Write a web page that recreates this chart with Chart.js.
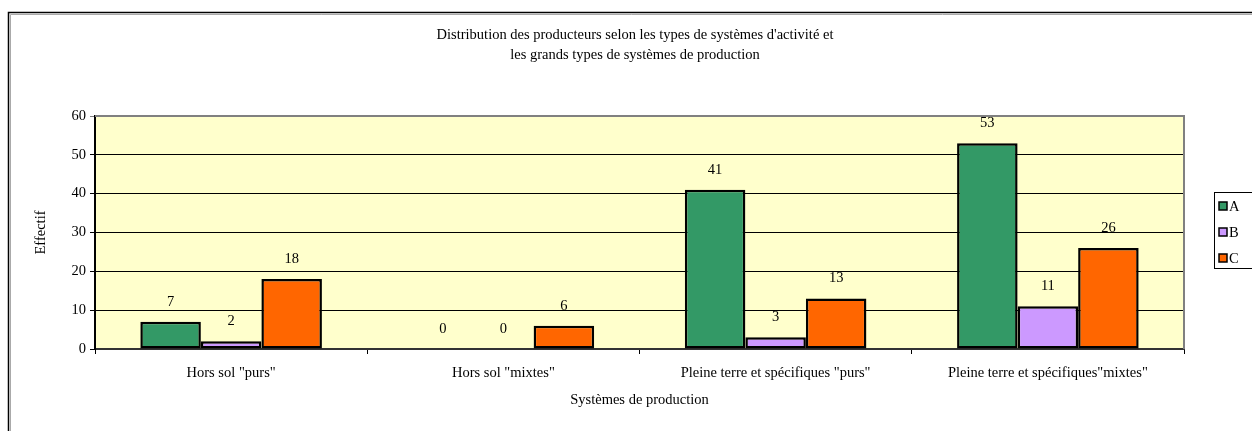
<!DOCTYPE html>
<html><head><meta charset="utf-8">
<script src="https://cdn.jsdelivr.net/npm/chart.js@4/dist/chart.umd.min.js"></script>
<style>html,body{margin:0;padding:0;background:#fff}#wrap{width:1252px;height:431px}</style>
</head><body><div id="wrap"><canvas id="c" width="1252" height="431"></canvas></div>
<script>
const categories = ['Hors sol "purs"', 'Hors sol "mixtes"', 'Pleine terre et spécifiques "purs"', 'Pleine terre et spécifiques"mixtes"'];
const seriesA = [7, 0, 41, 53];
const seriesB = [2, 0, 3, 11];
const seriesC = [18, 6, 13, 26];
const seriesNames = ['A', 'B', 'C'];
const yTicks = [0, 10, 20, 30, 40, 50, 60];
const titleLines = ["Distribution des producteurs selon les types de systèmes d'activité et", "les grands types de systèmes de production"];
const xTitle = 'Systèmes de production';
const yTitle = 'Effectif';

const colors = ['#339966', '#CC99FF', '#FF6600'];
const FONT = 'Liberation Serif';
const FS = 14.5;

const deco = {
  id: 'deco',
  beforeDraw(chart) {
    const ctx = chart.ctx, a = chart.chartArea;
    ctx.save();
    ctx.fillStyle = '#fff';
    ctx.fillRect(0, 0, chart.width, chart.height);
    // outer frame
    ctx.strokeStyle = '#000'; ctx.lineWidth = 1.5;
    ctx.beginPath(); ctx.moveTo(8.5, 440); ctx.lineTo(8.5, 12.5); ctx.lineTo(1260, 12.5); ctx.stroke();
    ctx.strokeStyle = '#aaa'; ctx.lineWidth = 1;
    ctx.beginPath(); ctx.moveTo(10.5, 440); ctx.lineTo(10.5, 14.5); ctx.lineTo(1260, 14.5); ctx.stroke();
    // title
    ctx.fillStyle = '#000';
    ctx.font = FS + 'px "' + FONT + '"';
    ctx.textAlign = 'center'; ctx.textBaseline = 'middle';
    titleLines.forEach((t, i) => ctx.fillText(t, 635, 35 + i * 20));
    // plot bg
    ctx.fillStyle = '#FFFFCC';
    ctx.fillRect(a.left, a.top, a.right - a.left, a.bottom - a.top);
    ctx.restore();
  },
  beforeDatasetsDraw(chart) {
    const ctx = chart.ctx, a = chart.chartArea;
    ctx.save();
    ctx.strokeStyle = '#808080'; ctx.lineWidth = 2;
    ctx.beginPath(); ctx.moveTo(a.left, a.top); ctx.lineTo(a.right, a.top); ctx.lineTo(a.right, a.bottom); ctx.stroke();
    ctx.restore();
  },
  afterDatasetsDraw(chart) {
    const ctx = chart.ctx;
    ctx.save();
    ctx.fillStyle = '#000';
    ctx.font = FS + 'px "' + FONT + '"';
    ctx.textAlign = 'center'; ctx.textBaseline = 'middle';
    chart.data.datasets.forEach((ds, i) => {
      chart.getDatasetMeta(i).data.forEach((bar, j) => {
        ctx.fillText(String(ds.data[j]), bar.x, bar.y - 20);
      });
    });
    // legend
    const lx = 1214.5, ly = 192.5;
    ctx.strokeStyle = '#000'; ctx.lineWidth = 1;
    ctx.strokeRect(lx, ly, 60, 76);
    ctx.textAlign = 'left';
    chart.data.datasets.forEach((ds, i) => {
      const y = 206 + i * 26;
      ctx.fillStyle = ds.backgroundColor;
      ctx.fillRect(1219, y - 4, 8, 8);
      ctx.lineWidth = 1.5;
      ctx.strokeRect(1219, y - 4, 8, 8);
      ctx.fillStyle = '#000';
      ctx.fillText(ds.label, 1229, y + 1);
    });
    ctx.restore();
  }
};

new Chart(document.getElementById('c'), {
  type: 'bar',
  data: {
    labels: categories,
    datasets: [seriesA, seriesB, seriesC].map((d, i) => ({
      label: seriesNames[i],
      data: d,
      backgroundColor: colors[i],
      borderColor: '#000',
      borderWidth: ctx => (ctx.raw === 0 ? 0 : 2.5),
      borderSkipped: false,
      categoryPercentage: 0.667,
      barPercentage: 1
    }))
  },
  options: {
    responsive: false,
    animation: false,
    devicePixelRatio: 1,
    layout: { padding: { left: 0, right: 68, top: 116, bottom: 0 } },
    plugins: {
      legend: { display: false },
      tooltip: { enabled: false },
      title: { display: false }
    },
    scales: {
      x: {
        grid: { display: true, drawOnChartArea: false, drawTicks: true, tickLength: 5, offset: true, color: '#000' },
        border: { display: true, color: '#333', width: 2 },
        ticks: { color: '#000', font: { family: FONT, size: FS }, padding: 10, maxRotation: 0, autoSkip: false },
        title: { display: true, text: xTitle, color: '#000', font: { family: FONT, size: FS }, padding: { top: 0, bottom: 22 } },
        afterFit(s) { s.height = 82; }
      },
      y: {
        min: 0, max: 60,
        afterBuildTicks(s) { s.ticks = yTicks.map(v => ({ value: v })); },
        grid: { color: ctx => (ctx.tick && ctx.tick.value === 60 ? '#808080' : '#000'), lineWidth: 1, tickLength: 5, drawTicks: true },
        border: { display: true, color: '#000', width: 2 },
        ticks: { color: '#000', font: { family: FONT, size: FS }, padding: 4 },
        title: { display: true, text: yTitle, color: '#000', font: { family: FONT, size: FS }, padding: { top: 32, bottom: 0 } },
        afterFit(s) { s.width = 95; }
      }
    }
  },
  plugins: [deco]
});
</script>
</body></html>
